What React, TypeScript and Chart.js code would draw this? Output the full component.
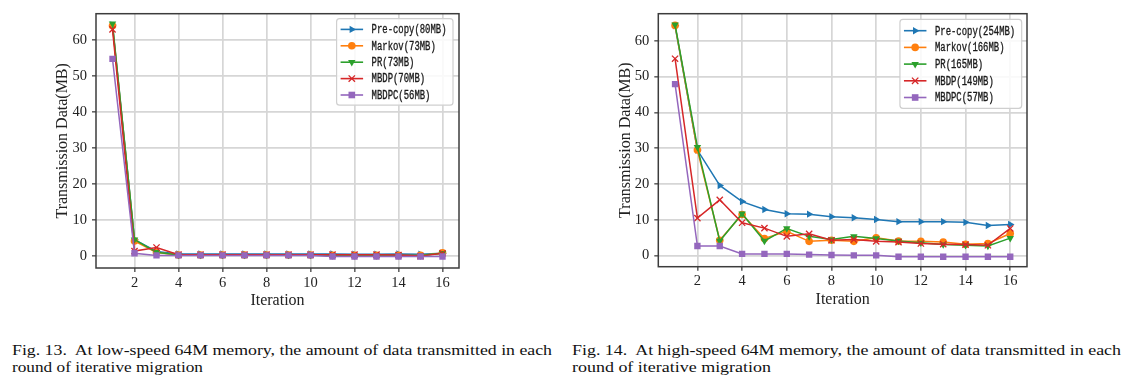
import React, { useEffect, useRef } from "react";
import { Chart, registerables } from "chart.js";

Chart.register(...registerables);

// ---------- data ----------
const iterations = [1, 2, 3, 4, 5, 6, 7, 8, 9, 10, 11, 12, 13, 14, 15, 16];
const xTickValues = [2, 4, 6, 8, 10, 12, 14, 16];
const yTickValues = [0, 10, 20, 30, 40, 50, 60];

const lowLabels = ["Pre-copy(80MB)", "Markov(73MB)", "PR(73MB)", "MBDP(70MB)", "MBDPC(56MB)"];
const highLabels = ["Pre-copy(254MB)", "Markov(166MB)", "PR(165MB)", "MBDP(149MB)", "MBDPC(57MB)"];

// Fig. 13 (low-speed)
const lowPreCopy = [64.2, 4.6, 1.3, 0.6, 0.6, 0.6, 0.6, 0.6, 0.6, 0.6, 0.6, 0.5, 0.5, 0.6, 0.5, 0.8];
const lowMarkov = [64.0, 4.2, 1.0, 0.3, 0.3, 0.3, 0.3, 0.3, 0.3, 0.3, 0.2, 0.2, 0.2, 0.2, 0.2, 0.9];
const lowPR = [64.6, 4.6, 1.1, 0.3, 0.3, 0.3, 0.3, 0.3, 0.3, 0.3, 0.2, 0.2, 0.2, 0.2, 0.2, 0.8];
const lowMBDP = [63.0, 1.4, 2.4, 0.4, 0.4, 0.4, 0.4, 0.4, 0.4, 0.4, 0.4, 0.4, 0.4, 0.3, 0.0, 0.8];
const lowMBDPC = [54.8, 0.8, 0.2, 0.2, 0.2, 0.2, 0.2, 0.2, 0.2, 0.2, -0.1, -0.1, -0.1, -0.1, -0.1, -0.1];

// Fig. 14 (high-speed)
const highPreCopy = [64.2, 29.5, 19.6, 15.1, 12.9, 11.7, 11.6, 10.9, 10.6, 10.1, 9.5, 9.5, 9.5, 9.3, 8.4, 8.7];
const highMarkov = [64.3, 29.5, 4.3, 11.5, 4.8, 6.8, 4.0, 4.3, 4.0, 5.0, 4.1, 4.0, 3.8, 3.2, 3.4, 6.2];
const highPR = [64.5, 30.3, 4.1, 11.7, 4.1, 7.6, 5.4, 4.5, 5.4, 4.8, 4.1, 3.6, 3.1, 2.9, 2.7, 4.9];
const highMBDP = [55.0, 10.5, 15.6, 9.2, 7.7, 5.4, 6.1, 4.3, 4.5, 4.0, 3.8, 3.4, 3.2, 3.1, 2.9, 7.6];
const highMBDPC = [47.9, 2.7, 2.7, 0.5, 0.5, 0.5, 0.3, 0.2, 0.1, 0.1, -0.3, -0.3, -0.3, -0.3, -0.3, -0.3];

// ---------- styles ----------
const colors = ["#1f77b4", "#ff7f0e", "#2ca02c", "#d62728", "#9467bd"];
const markers = ["triR", "circle", "triD", "x", "square"];

type Geom = {
  width: number;
  yAxisWidth: number;
  xAxisHeight: number;
  padTop: number;
  padRight: number;
  yMin: number;
  yMax: number;
  legendRightInset: number;
  legendTopInset: number;
  legendRowGap: number;
  legendFirstRow: number;
};

function drawMarker(ctx: CanvasRenderingContext2D, kind: string, x: number, y: number, color: string) {
  ctx.save();
  ctx.fillStyle = color;
  ctx.strokeStyle = color;
  ctx.lineWidth = 1.3;
  ctx.beginPath();
  const r = 4.3;
  if (kind === "triR") {
    ctx.moveTo(x + r, y);
    ctx.lineTo(x - r * 0.5, y - r * 0.866);
    ctx.lineTo(x - r * 0.5, y + r * 0.866);
    ctx.closePath();
    ctx.fill();
  } else if (kind === "triD") {
    ctx.moveTo(x, y + r);
    ctx.lineTo(x - r * 0.866, y - r * 0.5);
    ctx.lineTo(x + r * 0.866, y - r * 0.5);
    ctx.closePath();
    ctx.fill();
  } else if (kind === "circle") {
    ctx.arc(x, y, 3.8, 0, Math.PI * 2);
    ctx.fill();
  } else if (kind === "x") {
    const s = 3.2;
    ctx.moveTo(x - s, y - s);
    ctx.lineTo(x + s, y + s);
    ctx.moveTo(x + s, y - s);
    ctx.lineTo(x - s, y + s);
    ctx.stroke();
  } else {
    ctx.fillRect(x - 3.3, y - 3.3, 6.6, 6.6);
  }
  ctx.restore();
}

function makeDecor(labels: string[], g: Geom) {
  return {
    id: "decor",
    afterDatasetsDraw(chart: any) {
      const ctx: CanvasRenderingContext2D = chart.ctx;
      const a = chart.chartArea;
      ctx.save();
      // frame
      ctx.strokeStyle = "#3c3c3c";
      ctx.lineWidth = 1.5;
      ctx.strokeRect(a.left, a.top, a.right - a.left, a.bottom - a.top);
      // axis titles
      ctx.fillStyle = "#222";
      ctx.font = '16px "Liberation Serif", serif';
      ctx.textAlign = "center";
      ctx.textBaseline = "middle";
      ctx.fillText("Iteration", (a.left + a.right) / 2, a.bottom + 33);
      ctx.save();
      ctx.translate(a.left - 33, (a.top + a.bottom) / 2);
      ctx.rotate(-Math.PI / 2);
      ctx.fillText("Transmission Data(MB)", 0, 0);
      ctx.restore();

      // legend
      const charW = 5.35;
      const fontPx = 12.5;
      ctx.font = `${fontPx}px "Liberation Mono", monospace`;
      const natural = ctx.measureText("M").width;
      const sx = charW / natural;
      const maxChars = Math.max(...labels.map((l) => l.length));
      const boxW = 35 + maxChars * charW + 6.5;
      const boxH = g.legendFirstRow * 2 + g.legendRowGap * (labels.length - 1) - 0.5;
      const bx = a.right - g.legendRightInset - boxW;
      const by = a.top + g.legendTopInset;
      ctx.beginPath();
      const rr = 3;
      ctx.moveTo(bx + rr, by);
      ctx.lineTo(bx + boxW - rr, by);
      ctx.quadraticCurveTo(bx + boxW, by, bx + boxW, by + rr);
      ctx.lineTo(bx + boxW, by + boxH - rr);
      ctx.quadraticCurveTo(bx + boxW, by + boxH, bx + boxW - rr, by + boxH);
      ctx.lineTo(bx + rr, by + boxH);
      ctx.quadraticCurveTo(bx, by + boxH, bx, by + boxH - rr);
      ctx.lineTo(bx, by + rr);
      ctx.quadraticCurveTo(bx, by, bx + rr, by);
      ctx.closePath();
      ctx.fillStyle = "rgba(255,255,255,0.85)";
      ctx.fill();
      ctx.strokeStyle = "#cfcfcf";
      ctx.lineWidth = 1.2;
      ctx.stroke();

      labels.forEach((lab, i) => {
        const ry = by + g.legendFirstRow + i * g.legendRowGap;
        ctx.strokeStyle = colors[i];
        ctx.lineWidth = 1.6;
        ctx.beginPath();
        ctx.moveTo(bx + 4, ry);
        ctx.lineTo(bx + 26.5, ry);
        ctx.stroke();
        drawMarker(ctx, markers[i], bx + 15.2, ry, colors[i]);
        ctx.save();
        ctx.translate(bx + 35, ry);
        ctx.scale(sx, 1);
        ctx.fillStyle = "#1a1a1a";
        ctx.strokeStyle = "#1a1a1a";
        ctx.lineWidth = 0.35;
        ctx.textAlign = "left";
        ctx.textBaseline = "middle";
        ctx.font = `${fontPx}px "Liberation Mono", monospace`;
        ctx.fillText(lab, 0, 0.5);
        ctx.strokeText(lab, 0, 0.5);
        ctx.restore();
      });
      ctx.restore();
    },
  };
}

function buildChart(canvas: HTMLCanvasElement, labels: string[], series: number[][], g: Geom) {
  const pointStyles = ["triangle", "circle", "triangle", "crossRot", "rect"];
  const rotations = [90, 0, 180, 0, 0];
  const radii = [4.3, 3.8, 4.3, 4.4, 4.5];
  const datasets = series.map((vals, i) => ({
    label: labels[i],
    data: iterations.map((x, k) => ({ x, y: vals[k] })),
    borderColor: colors[i],
    backgroundColor: colors[i],
    borderWidth: 1.5,
    pointStyle: pointStyles[i],
    pointRotation: rotations[i],
    pointRadius: radii[i],
    pointBorderWidth: i === 3 ? 1.3 : 0,
    pointBackgroundColor: colors[i],
    pointBorderColor: colors[i],
    tension: 0,
    order: 5 - i,
  }));
  return new Chart(canvas, {
    type: "line",
    data: { datasets },
    plugins: [makeDecor(labels, g)],
    options: {
      animation: false,
      responsive: false,
      maintainAspectRatio: false,
      events: [],
      layout: { padding: { left: 0, top: g.padTop, right: g.padRight, bottom: 0 } },
      plugins: { legend: { display: false }, tooltip: { enabled: false } },
      scales: {
        x: {
          type: "linear",
          min: 0.25,
          max: 16.75,
          afterBuildTicks: (s: any) => {
            s.ticks = xTickValues.map((v) => ({ value: v }));
          },
          afterFit: (s: any) => {
            s.height = g.xAxisHeight;
          },
          grid: { color: "#d6d6d6", lineWidth: 1.7, tickLength: 4, tickColor: "#333", tickWidth: 1.2 },
          border: { display: false },
          ticks: {
            font: { family: '"Liberation Serif", serif', size: 14.5 },
            color: "#222",
            padding: 2,
            maxRotation: 0,
            autoSkip: false,
            callback: (v: any) => String(v),
          },
        },
        y: {
          type: "linear",
          min: g.yMin,
          max: g.yMax,
          afterBuildTicks: (s: any) => {
            s.ticks = yTickValues.map((v) => ({ value: v }));
          },
          afterFit: (s: any) => {
            s.width = g.yAxisWidth;
          },
          grid: { color: "#d6d6d6", lineWidth: 1.7, tickLength: 4, tickColor: "#333", tickWidth: 1.2 },
          border: { display: false },
          ticks: {
            font: { family: '"Liberation Serif", serif', size: 14.5 },
            color: "#222",
            padding: 5,
            autoSkip: false,
            callback: (v: any) => String(v),
          },
        },
      },
    } as any,
  });
}

const lowGeom: Geom = {
  width: 570,
  yAxisWidth: 96,
  xAxisHeight: 52,
  padTop: 11,
  padRight: 111,
  yMin: -3.3,
  yMax: 67.34,
  legendRightInset: 6,
  legendTopInset: 5,
  legendRowGap: 16.4,
  legendFirstRow: 10.7,
};

const highGeom: Geom = {
  width: 571,
  yAxisWidth: 87.3,
  xAxisHeight: 53.3,
  padTop: 5.3,
  padRight: 115,
  yMin: -3.08,
  yMax: 67.57,
  legendRightInset: 5.3,
  legendTopInset: 5.7,
  legendRowGap: 16.7,
  legendFirstRow: 11.3,
};

function ChartCanvas(props: { labels: string[]; series: number[][]; geom: Geom; left: number }) {
  const ref = useRef<HTMLCanvasElement>(null);
  useEffect(() => {
    if (!ref.current) return;
    const c = buildChart(ref.current, props.labels, props.series, props.geom);
    return () => c.destroy();
  }, []);
  return (
    <canvas
      ref={ref}
      width={props.geom.width}
      height={320}
      style={{ position: "absolute", left: props.left, top: 0, width: props.geom.width, height: 320 }}
    />
  );
}

export default function App() {
  const capStyle = { fontFamily: '"Liberation Serif", serif', fontSize: 14.5, fill: "#111" } as any;
  return (
    <div style={{ position: "absolute", left: 0, top: 0, width: 1142, height: 384, background: "#fff", overflow: "hidden" }}>
      <ChartCanvas
        labels={lowLabels}
        series={[lowPreCopy, lowMarkov, lowPR, lowMBDP, lowMBDPC]}
        geom={lowGeom}
        left={0}
      />
      <ChartCanvas
        labels={highLabels}
        series={[highPreCopy, highMarkov, highPR, highMBDP, highMBDPC]}
        geom={highGeom}
        left={571}
      />
      <svg width={1142} height={64} style={{ position: "absolute", left: 0, top: 320 }}>
        <text x={12} y={35} textLength={540} lengthAdjust="spacingAndGlyphs" style={capStyle}>
          {"Fig. 13.\u00a0 At low-speed 64M memory, the amount of data transmitted in each"}
        </text>
        <text x={12} y={52} textLength={191} lengthAdjust="spacingAndGlyphs" style={capStyle}>
          round of iterative migration
        </text>
        <text x={572} y={35} textLength={549} lengthAdjust="spacingAndGlyphs" style={capStyle}>
          {"Fig. 14.\u00a0 At high-speed 64M memory, the amount of data transmitted in each"}
        </text>
        <text x={572} y={52} textLength={199} lengthAdjust="spacingAndGlyphs" style={capStyle}>
          round of iterative migration
        </text>
      </svg>
    </div>
  );
}
